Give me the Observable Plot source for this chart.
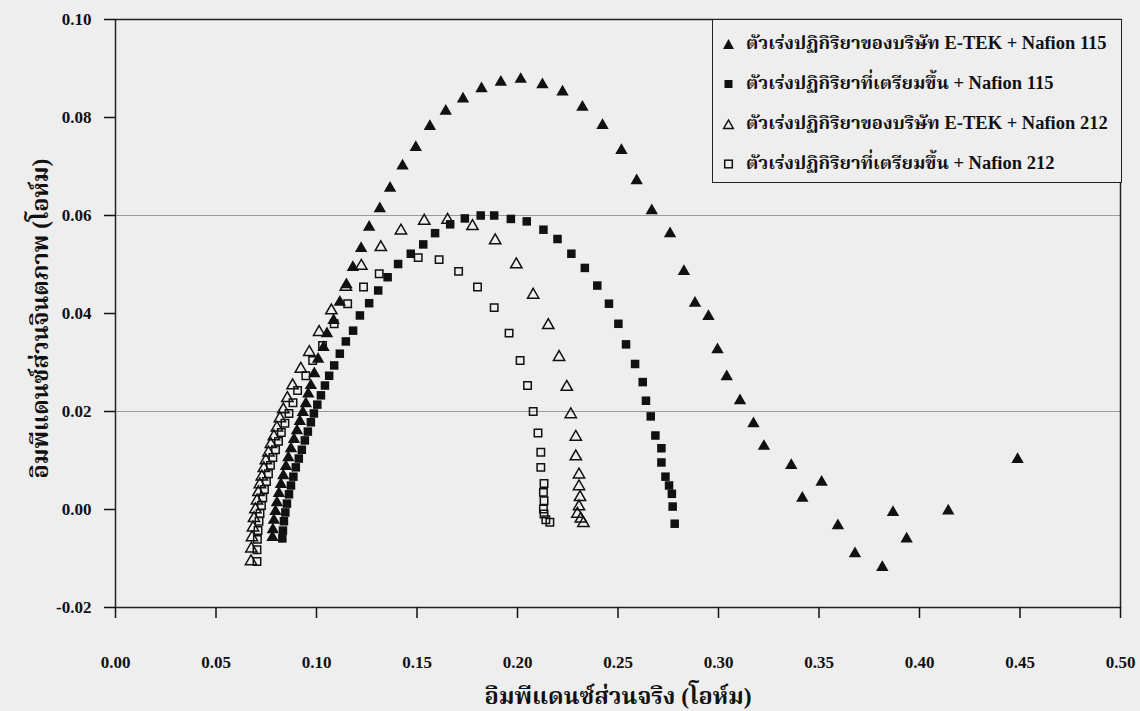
<!DOCTYPE html>
<html>
<head>
<meta charset="utf-8">
<script src="https://cdn.jsdelivr.net/npm/d3@7"></script>
<script src="https://cdn.jsdelivr.net/npm/@observablehq/plot@0.6"></script>
<style>
  html, body { margin: 0; padding: 0; background: #eeeeee; }
  #wrap { position: relative; width: 1140px; height: 711px; }
  #legend {
    position: absolute; left: 712px; top: 19px; width: 410px; height: 164px;
    border: 1.5px solid #222; background: #eeeeee; box-sizing: border-box;
    font-family: "Liberation Serif", "Noto Serif Thai", "Noto Sans Thai", "Loma", "Garuda", "DejaVu Serif", serif;
    font-weight: bold; font-size: 18.5px; color: #111;
  }
  .row { position: absolute; left: 0; height: 30px; display: flex; align-items: center; white-space: nowrap; }
  .row svg { margin-left: 9px; margin-right: 11px; }
</style>
</head>
<body>
<div id="wrap"><div id="legend"></div></div>
<script>
const FONT = '"Liberation Serif", "Noto Serif Thai", "Noto Sans Thai", "Loma", "Garuda", "DejaVu Serif", serif';

const xTicks = [0, 0.05, 0.10, 0.15, 0.20, 0.25, 0.30, 0.35, 0.40, 0.45, 0.50];
const yTicks = [-0.02, 0.00, 0.02, 0.04, 0.06, 0.08, 0.10];
const gridY = [0.02, 0.06];

const xLabel = "อิมพีแดนซ์ส่วนจริง (โอห์ม)";
const yLabel = "อิมพีแดนซ์ส่วนจินตภาพ (โอห์ม)";
const seriesNames = [
  "ตัวเร่งปฏิกิริยาของบริษัท E-TEK + Nafion 115",
  "ตัวเร่งปฏิกิริยาที่เตรียมขึ้น + Nafion 115",
  "ตัวเร่งปฏิกิริยาของบริษัท E-TEK + Nafion 212",
  "ตัวเร่งปฏิกิริยาที่เตรียมขึ้น + Nafion 212"
];

// [Z' (ohm), -Z'' (ohm)]
const etek115 = [
  [0.0781,-0.0057],[0.0783,-0.0041],[0.0788,-0.0022],[0.0796,-0.0004],[0.0803,0.0014],[0.0813,0.0033],
  [0.0823,0.0051],[0.0835,0.0069],[0.0848,0.0088],[0.0860,0.0106],[0.0873,0.0124],[0.0888,0.0143],
  [0.0903,0.0161],[0.0917,0.0180],[0.0932,0.0198],[0.0947,0.0216],[0.0959,0.0236],[0.0972,0.0253],
  [0.0989,0.0277],[0.1008,0.0307],[0.1035,0.0331],[0.1052,0.0359],[0.1085,0.0386],[0.1116,0.0423],
  [0.1149,0.0459],[0.1181,0.0494],[0.1222,0.0533],[0.1262,0.0576],[0.1315,0.0614],[0.1366,0.0656],
  [0.1428,0.0701],[0.1494,0.0739],[0.1564,0.0782],[0.1643,0.0813],[0.1729,0.0838],[0.1821,0.0859],
  [0.1917,0.0872],[0.2016,0.0878],[0.2124,0.0867],[0.2224,0.0852],[0.2323,0.0821],[0.2423,0.0784],
  [0.2517,0.0733],[0.2593,0.0671],[0.2668,0.0610],[0.2759,0.0563],[0.2828,0.0486],[0.2883,0.0421],
  [0.2950,0.0394],[0.2995,0.0326],[0.3041,0.0271],[0.3107,0.0222],[0.3174,0.0175],[0.3226,0.0129],
  [0.3362,0.0090],[0.3417,0.0023],[0.3513,0.0056],[0.3594,-0.0033],[0.3679,-0.0090],[0.3815,-0.0118],
  [0.3868,-0.0006],[0.3936,-0.0060],[0.4143,-0.0003],[0.4488,0.0102]
];
const prep115 = [
  [0.0830,-0.0059],[0.0833,-0.0043],[0.0838,-0.0024],[0.0845,-0.0006],[0.0853,0.0012],[0.0863,0.0031],
  [0.0873,0.0049],[0.0885,0.0067],[0.0897,0.0086],[0.0912,0.0104],[0.0927,0.0122],[0.0942,0.0141],
  [0.0957,0.0159],[0.0972,0.0178],[0.0987,0.0196],[0.1004,0.0214],[0.1022,0.0233],[0.1042,0.0253],
  [0.1063,0.0273],[0.1088,0.0294],[0.1116,0.0318],[0.1146,0.0343],[0.1182,0.0365],[0.1216,0.0396],
  [0.1262,0.0421],[0.1307,0.0447],[0.1354,0.0474],[0.1406,0.0501],[0.1469,0.0522],[0.1531,0.0541],
  [0.1590,0.0564],[0.1665,0.0582],[0.1738,0.0594],[0.1817,0.0600],[0.1884,0.0600],[0.1967,0.0593],
  [0.2046,0.0588],[0.2129,0.0571],[0.2199,0.0552],[0.2268,0.0522],[0.2335,0.0493],[0.2397,0.0457],
  [0.2455,0.0420],[0.2502,0.0379],[0.2540,0.0337],[0.2585,0.0297],[0.2623,0.0260],[0.2639,0.0222],
  [0.2663,0.0190],[0.2686,0.0151],[0.2716,0.0125],[0.2716,0.0096],[0.2736,0.0067],[0.2754,0.0049],
  [0.2768,0.0032],[0.2772,0.0006],[0.2782,-0.0029]
];
const etek212 = [
  [0.0674,-0.0106],[0.0676,-0.0080],[0.0679,-0.0057],[0.0684,-0.0037],[0.0689,-0.0018],[0.0696,0.0000],
  [0.0704,0.0018],[0.0711,0.0035],[0.0718,0.0051],[0.0728,0.0067],[0.0738,0.0084],[0.0748,0.0100],
  [0.0761,0.0116],[0.0773,0.0133],[0.0788,0.0149],[0.0803,0.0167],[0.0818,0.0186],[0.0835,0.0204],
  [0.0855,0.0227],[0.0881,0.0253],[0.0922,0.0287],[0.0964,0.0321],[0.1013,0.0362],[0.1074,0.0406],
  [0.1146,0.0454],[0.1223,0.0497],[0.1320,0.0535],[0.1420,0.0569],[0.1536,0.0589],[0.1652,0.0591],
  [0.1776,0.0578],[0.1889,0.0549],[0.1994,0.0500],[0.2078,0.0438],[0.2153,0.0376],[0.2207,0.0311],
  [0.2245,0.0250],[0.2265,0.0194],[0.2290,0.0148],[0.2290,0.0108],[0.2306,0.0071],[0.2306,0.0047],
  [0.2311,0.0025],[0.2306,0.0006],[0.2298,-0.0009],[0.2315,-0.0019],[0.2328,-0.0028]
];
const prep212 = [
  [0.0704,-0.0106],[0.0704,-0.0082],[0.0706,-0.0061],[0.0709,-0.0043],[0.0714,-0.0024],[0.0719,-0.0008],
  [0.0726,0.0008],[0.0733,0.0024],[0.0741,0.0041],[0.0751,0.0057],[0.0761,0.0073],[0.0771,0.0090],
  [0.0783,0.0106],[0.0796,0.0122],[0.0811,0.0139],[0.0825,0.0157],[0.0843,0.0176],[0.0863,0.0196],
  [0.0883,0.0218],[0.0906,0.0243],[0.0947,0.0273],[0.0981,0.0304],[0.1030,0.0335],[0.1088,0.0379],
  [0.1155,0.0420],[0.1234,0.0454],[0.1312,0.0481],[0.1506,0.0514],[0.1610,0.0510],[0.1707,0.0486],
  [0.1801,0.0454],[0.1884,0.0412],[0.1958,0.0360],[0.2013,0.0304],[0.2050,0.0253],[0.2078,0.0200],
  [0.2102,0.0156],[0.2116,0.0117],[0.2116,0.0086],[0.2132,0.0053],[0.2129,0.0035],[0.2132,0.0018],
  [0.2129,0.0001],[0.2132,-0.0009],[0.2141,-0.0021],[0.2161,-0.0026]
];

const fmt = d => d.toFixed(2);
const X = d => d[0], Y = d => d[1];

const chart = Plot.plot({
  width: 1140,
  height: 711,
  marginLeft: 115,
  marginRight: 20,
  marginTop: 19,
  marginBottom: 104,
  style: {background: "#eeeeee", fontFamily: FONT, fontSize: "17px", fontWeight: "bold", color: "#111"},
  x: {domain: [0, 0.5], label: null},
  y: {domain: [-0.02, 0.10], label: null},
  marks: [
    Plot.ruleY(gridY, {stroke: "#9a9a9a", strokeWidth: 1}),
    Plot.frame({stroke: "#222", strokeWidth: 1.5}),
    Plot.axisX({ticks: xTicks, tickFormat: fmt, tickSize: 11, tickPadding: 37, strokeWidth: 1.5, label: null}),
    Plot.axisY({ticks: yTicks, tickFormat: fmt, tickSize: 11, tickPadding: 13, strokeWidth: 1.5, label: null}),
    Plot.dot(etek115, {x: X, y: Y, symbol: "triangle", r: 4.6, fill: "#111", stroke: "none"}),
    Plot.dot(prep115, {x: X, y: Y, symbol: "square", r: 4.8, fill: "#111", stroke: "none"}),
    Plot.dot(etek212, {x: X, y: Y, symbol: "triangle", r: 4.2, fill: "none", stroke: "#111", strokeWidth: 1.5}),
    Plot.dot(prep212, {x: X, y: Y, symbol: "square", r: 4.2, fill: "none", stroke: "#111", strokeWidth: 1.5}),
    Plot.text([xLabel], {text: d => d, frameAnchor: "bottom", lineAnchor: "middle", dy: 89, fontSize: 23.5, fontWeight: "bold", fill: "#111"}),
    Plot.text([yLabel], {text: d => d, frameAnchor: "left", textAnchor: "middle", dx: -75, dy: 5, rotate: -90, fontSize: 23.5, fontWeight: "bold", fill: "#111"})
  ]
});
document.getElementById("wrap").prepend(chart);

// legend
const symbolsSvg = [
  '<svg width="13" height="12"><path d="M6.5,1L12,11H1Z" fill="#111"/></svg>',
  '<svg width="13" height="12"><rect x="2.5" y="2" width="8" height="8" fill="#111"/></svg>',
  '<svg width="13" height="12"><path d="M6.5,2L11.3,10.5H1.7Z" fill="none" stroke="#111" stroke-width="1.5"/></svg>',
  '<svg width="13" height="12"><rect x="2.7" y="2.2" width="7.6" height="7.6" fill="none" stroke="#111" stroke-width="1.5"/></svg>'
];
const legend = document.getElementById("legend");
seriesNames.forEach((name, i) => {
  const row = document.createElement("div");
  row.className = "row";
  row.style.top = (9 + i * 40) + "px";
  row.innerHTML = symbolsSvg[i] + "<span>" + name + "</span>";
  legend.appendChild(row);
});
</script>
</body>
</html>
